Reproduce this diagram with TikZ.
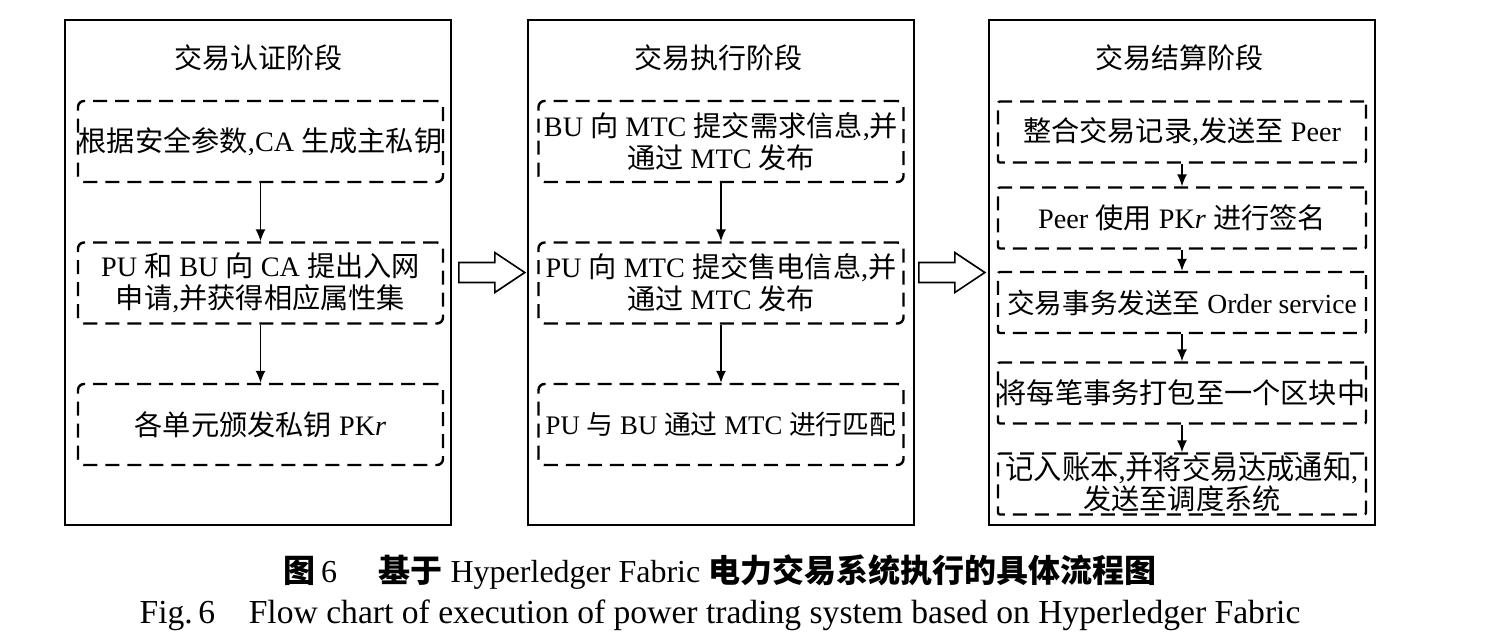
\documentclass[tikz,border=0pt]{standalone}
\usepackage{fontspec}
\setmainfont{Liberation Serif}
\newfontfamily\cjk{Noto Sans CJK SC}
\usetikzlibrary{arrows.meta,calc}
\newcommand{\C}[1]{{\cjk #1}}
\newcommand{\CB}[1]{{\cjk\bfseries #1}}
\begin{document}
\begin{tikzpicture}[x=0.5pt,y=-0.5pt,
  panel/.style={draw, line width=0.8pt, minimum width=193pt, minimum height=252.5pt, inner sep=0pt},
  title/.style={font=\fontsize{14}{16}\selectfont},
  bigbox/.style={draw, dashed, dash pattern=on 7pt off 4pt, line width=1.2pt, rounded corners=3pt,
     minimum width=182.5pt, minimum height=40.5pt, inner sep=0pt, align=center,
     font=\fontsize{14.1}{16}\selectfont},
  smallbox/.style={bigbox, minimum width=184pt, minimum height=30.5pt, font=\fontsize{14.1}{14}\selectfont, rounded corners=1pt},
  flow/.style={-{Latex[length=6pt,width=5pt]}, line width=0.7pt},
  block/.style={draw, line width=0.8pt, fill=white, line join=miter}
]
\useasboundingbox (0,0) rectangle (1502,642);
% panels
\node[panel] (p1) at (258,272.5) {};
\node[panel] (p2) at (721,272.5) {};
\node[panel] (p3) at (1182,272.5) {};
% titles
\node[title] (t1) at (258,58) {\C{交易认证阶段}};
\node[title] (t2) at (718,58) {\C{交易执行阶段}};
\node[title] (t3) at (1179,58) {\C{交易结算阶段}};
% panel 1
\node[bigbox] (a1) at (260.5,141.5) {\C{根据安全参数},CA \C{生成主私钥}};
\node[bigbox] (a2) at (260.5,283) {PU \C{和} BU \C{向} CA \C{提出入网}\\\C{申请},\C{并获得相应属性集}};
\node[bigbox] (a3) at (260.5,424.5) {\C{各单元颁发私钥} PK\textit{r}};
% panel 2
\node[bigbox] (b1) at (721,141.5) {BU \C{向} MTC \C{提交需求信息},\C{并}\\\C{通过} MTC \C{发布}};
\node[bigbox] (b2) at (721,283) {PU \C{向} MTC \C{提交售电信息},\C{并}\\\C{通过} MTC \C{发布}};
\node[bigbox, font=\fontsize{13.4}{16}\selectfont] (b3) at (721,424.5) {PU \C{与} BU \C{通过} MTC \C{进行匹配}};
% panel 3
\node[smallbox] (c1) at (1182,132) {\C{整合交易记录},\C{发送至} Peer};
\node[smallbox] (c2) at (1182,218) {Peer \C{使用} PK\textit{r} \C{进行签名}};
\node[smallbox, font=\fontsize{13.8}{14}\selectfont] (c3) at (1182,302.5) {\C{交易事务发送至} Order service};
\node[smallbox] (c4) at (1182,393) {\C{将每笔事务打包至一个区块中}};
\node[smallbox] (c5) at (1182,484) {\C{记入账本},\C{并将交易达成通知},\\\C{发送至调度系统}};
% vertical arrows
\draw[flow] (a1) -- (a2);
\draw[flow] (a2) -- (a3);
\draw[flow] (b1) -- (b2);
\draw[flow] (b2) -- (b3);
\draw[flow] (c1) -- (c2);
\draw[flow] (c2) -- (c3);
\draw[flow] (c3) -- (c4);
\draw[flow] (c4) -- (c5);
% block arrows
\draw[block] ($(p1.east)+(7,-10)$) -- ($(p1.east)+(43,-10)$) -- ($(p1.east)+(43,-20)$)
  -- ($(p1.east)+(73,0)$) -- ($(p1.east)+(43,20)$) -- ($(p1.east)+(43,10)$) -- ($(p1.east)+(7,10)$) -- cycle;
\draw[block] ($(p2.east)+(4,-10)$) -- ($(p2.east)+(40,-10)$) -- ($(p2.east)+(40,-20)$)
  -- ($(p2.east)+(70,0)$) -- ($(p2.east)+(40,20)$) -- ($(p2.east)+(40,10)$) -- ($(p2.east)+(4,10)$) -- cycle;
% captions
\node[font=\fontsize{16}{18}\selectfont] (cap1) at (720,572)
  {\CB{图}\,6\hspace{1.3em}\CB{基于} Hyperledger Fabric \CB{电力交易系统执行的具体流程图}};
\node[font=\fontsize{16.8}{18}\selectfont] (cap2) at (720,615)
  {Fig.\,6\hspace{1em}Flow chart of execution of power trading system based on Hyperledger Fabric};
\end{tikzpicture}
\end{document}
